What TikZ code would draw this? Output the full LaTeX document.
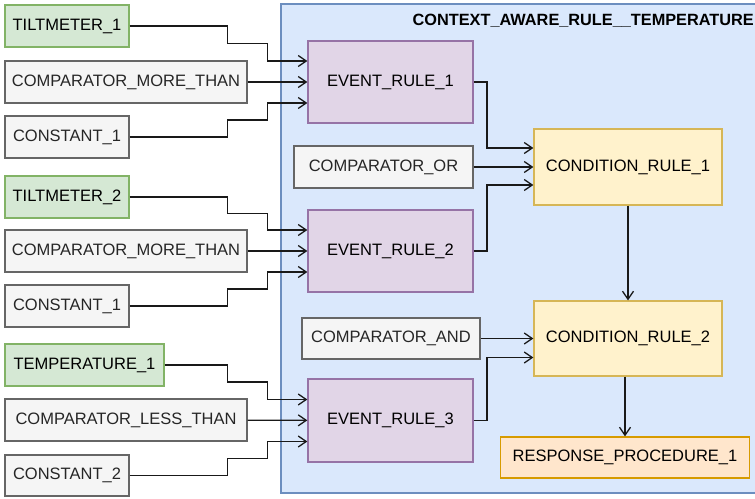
\documentclass[tikz,border=0pt]{standalone}
\usepackage{fontspec}
\setmainfont{Liberation Sans}
\usetikzlibrary{positioning,arrows.meta}
\definecolor{sensfill}{HTML}{D5E8D4}
\definecolor{sensline}{HTML}{82B366}
\definecolor{grayfill}{HTML}{F5F5F5}
\definecolor{grayline}{HTML}{666666}
\definecolor{evfill}{HTML}{E1D5E7}
\definecolor{evline}{HTML}{9673A6}
\definecolor{condfill}{HTML}{FFF2CC}
\definecolor{condline}{HTML}{D6B656}
\definecolor{respfill}{HTML}{FFE6CC}
\definecolor{respline}{HTML}{D79B00}
\definecolor{ctxfill}{HTML}{DAE8FC}
\definecolor{ctxline}{HTML}{6C8EBF}
\begin{document}
\begin{tikzpicture}[x=1pt,y=-1pt,
  box/.style={draw,line width=1.3pt,inner sep=0pt,align=center,
    font=\fontsize{16.5}{19}\selectfont},
  sensor/.style={box,fill=sensfill,draw=sensline,minimum height=42pt},
  oper/.style={box,fill=grayfill,draw=grayline,text=black!85,minimum height=42pt},
  evrule/.style={box,fill=evfill,draw=evline,minimum width=165pt},
  condrule/.style={box,fill=condfill,draw=condline,minimum width=188pt},
  resprule/.style={box,fill=respfill,draw=respline},
  arr/.style={-{Straight Barb[length=8pt,width=11pt]},line width=1.3pt,black!90}]
\clip (0,0) rectangle (755,498);
\draw[fill=ctxfill,draw=ctxline,line width=1.3pt] (281,4) rectangle (765,493);
\node[anchor=north east,font=\fontsize{16.3}{19}\selectfont\bfseries,inner sep=0pt]
  (ctxtitle) at (754,14) {CONTEXT\_AWARE\_RULE\_\_TEMPERATURE};
\node[sensor,minimum width=124pt] (tilt1) at (67,26) {TILTMETER\_1};
\node[oper,minimum width=242pt] (cmpmore1) at (126,82) {COMPARATOR\_MORE\_THAN};
\node[oper,minimum width=124pt] (const1) at (67,137) {CONSTANT\_1};
\node[sensor,minimum width=124pt] (tilt2) at (67,197) {TILTMETER\_2};
\node[oper,minimum width=242pt] (cmpmore2) at (126,251) {COMPARATOR\_MORE\_THAN};
\node[oper,minimum width=124pt] (const1b) at (67,306) {CONSTANT\_1};
\node[sensor,minimum width=159pt] (temp1) at (84.5,365) {TEMPERATURE\_1};
\node[oper,minimum width=242pt] (cmpless) at (126,420) {COMPARATOR\_LESS\_THAN};
\node[oper,minimum width=124pt,minimum height=41pt] (const2) at (67,475.5) {CONSTANT\_2};
\node[evrule,minimum height=82pt] (ev1) at (390.5,82) {EVENT\_RULE\_1};
\node[evrule,minimum height=82pt] (ev2) at (390.5,251) {EVENT\_RULE\_2};
\node[evrule,minimum height=83pt] (ev3) at (390.5,420.5) {EVENT\_RULE\_3};
\node[oper,minimum width=179pt] (cmpor) at (383.5,167) {COMPARATOR\_OR};
\node[oper,minimum width=178pt,minimum height=41pt] (cmpand) at (391,338.5) {COMPARATOR\_AND};
\node[condrule,minimum height=76pt] (cond1) at (628,167) {CONDITION\_RULE\_1};
\node[condrule,minimum height=75pt] (cond2) at (628,338.5) {CONDITION\_RULE\_2};
\node[resprule,minimum width=249pt,minimum height=41pt] (resp) at (625,457.5) {RESPONSE\_PROCEDURE\_1};
\coordinate (jout) at (487,0);
\draw[arr] (tilt1.east) -| ++(98,17.5) -| ([xshift=-40pt,yshift=21pt]ev1.west) -- ([yshift=21pt]ev1.west);
\draw[arr] (cmpmore1) -- (ev1);
\draw[arr] (const1.east) -| ++(98,-17) -| ([xshift=-40pt,yshift=-21pt]ev1.west) -- ([yshift=-21pt]ev1.west);
\draw[arr] (tilt2.east) -| ++(98,16.5) -| ([xshift=-40pt,yshift=21pt]ev2.west) -- ([yshift=21pt]ev2.west);
\draw[arr] (cmpmore2) -- (ev2);
\draw[arr] (const1b.east) -| ++(98,-17) -| ([xshift=-40pt,yshift=-21pt]ev2.west) -- ([yshift=-21pt]ev2.west);
\draw[arr] (temp1.east) -| ++(63,17) -| ([xshift=-40pt,yshift=21pt]ev3.west) -- ([yshift=21pt]ev3.west);
\draw[arr] (cmpless) -- (ev3);
\draw[arr] (const2.east) -| ++(98,-17) -| ([xshift=-40pt,yshift=-21pt]ev3.west) -- ([yshift=-21pt]ev3.west);
\draw[arr] (ev1.east) -- (ev1.east -| jout) |- ([yshift=19pt]cond1.west);
\draw[arr] (cmpor) -- (cond1);
\draw[arr] (ev2.east) -- (ev2.east -| jout) |- ([yshift=-18pt]cond1.west);
\draw[arr] (cond1) -- (cond2);
\draw[arr] (cmpand) -- (cond2);
\draw[arr] (ev3.east) -- (ev3.east -| jout) |- ([yshift=-19pt]cond2.west);
\draw[arr] (cond2.south -| resp.north) -- (resp.north);
\end{tikzpicture}
\end{document}
